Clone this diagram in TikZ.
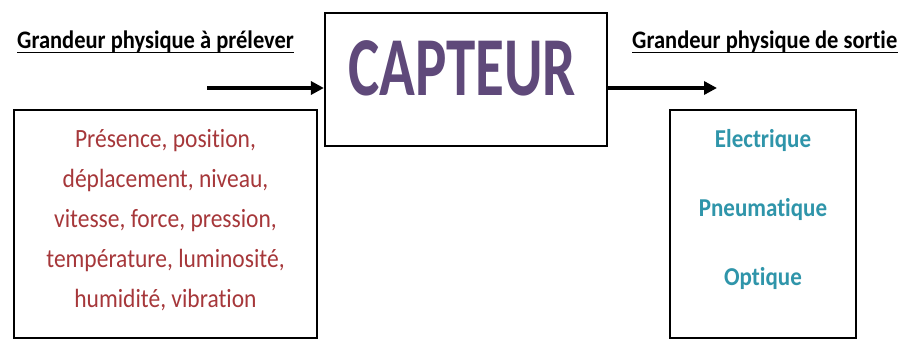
\documentclass[tikz,border=0pt]{standalone}
\usepackage{fontspec}
\setmainfont{Carlito}[Ligatures=NoCommon]
\usetikzlibrary{arrows.meta}

\definecolor{sensorpurple}{HTML}{5F497A}
\definecolor{inputred}{HTML}{A6373A}
\definecolor{outputteal}{HTML}{2F95AA}

% slightly tall lettering for the list entries
\newcommand{\tallline}[1]{\scalebox{1}[1.12]{#1}}

\tikzset{
  frame/.style={draw=black, line width=1.6pt, inner sep=0pt, fill=white},
  heading/.style={inner sep=0pt, anchor=base west, font=\bfseries\fontsize{22.5}{27}\selectfont},
  flow/.style={line width=3.6pt, -{Triangle[length=13pt,width=13pt]}},
  inlist/.style={align=center, text=inputred, font=\fontsize{23.5}{40}\selectfont},
  outlist/.style={align=center, text=outputteal, font=\bfseries\fontsize{23}{69}\selectfont},
  rule/.style={line width=1.4pt}
}

\begin{document}
\begin{tikzpicture}[x=1pt, y=-1pt]
  % page extent
  \useasboundingbox (0,0) rectangle (901,340);

  % headings, underlined below the baseline
  \node[heading] (inTitle) at (17,48) {\tallline{Grandeur physique à prélever}};
  \node[heading] (outTitle) at (632,48) {\tallline{Grandeur physique de sortie}};
  \draw[rule] ([yshift=-4.5pt]inTitle.base west) -- ([yshift=-4.5pt]inTitle.base east);
  \draw[rule] ([yshift=-4.5pt]outTitle.base west) -- ([yshift=-4.5pt]outTitle.base east);

  % central block
  \node[frame, line width=2.2pt, minimum width=282pt, minimum height=133pt] (capteur) at (466,79.5) {};
  \node[text=sensorpurple, inner sep=0pt] (capteurText) at (462,68)
    {\scalebox{1}[1.42]{\bfseries\fontsize{59}{59}\selectfont CAPTEUR}};

  % input and output boxes
  \node[frame, minimum width=303pt, minimum height=228pt] (inBox) at (165.5,224) {};
  \node[frame, minimum width=186pt, minimum height=228pt] (outBox) at (763,224) {};

  \node[inlist] (inText) at (165.5,220)
    {\tallline{Présence, position,}\\\tallline{déplacement, niveau,}\\\tallline{vitesse, force, pression,}\\\tallline{température, luminosité,}\\\tallline{humidité, vibration}};
  \node[outlist] (outText) at (763,209)
    {\tallline{Electrique}\\\tallline{Pneumatique}\\\tallline{Optique}};

  % flow arrows
  \coordinate (inStart) at (207,88);
  \coordinate (outEnd) at (717,88);
  \draw[flow] (inStart) -- (inStart -| capteur.west);
  \draw[flow] (outEnd -| capteur.east) -- (outEnd);
\end{tikzpicture}
\end{document}
